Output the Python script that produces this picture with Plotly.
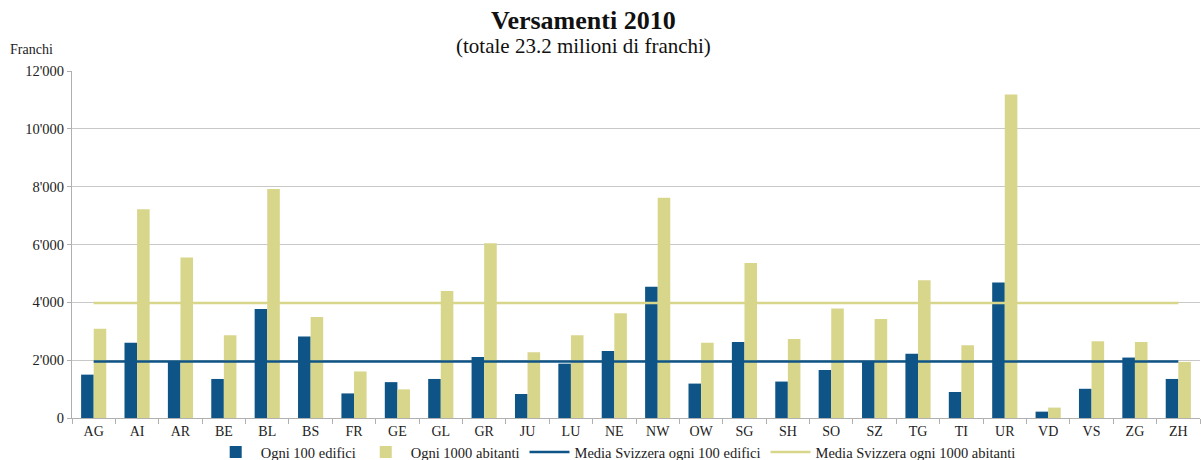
import plotly.graph_objects as go

cantoni = ["AG", "AI", "AR", "BE", "BL", "BS", "FR", "GE", "GL", "GR", "JU", "LU", "NE",
           "NW", "OW", "SG", "SH", "SO", "SZ", "TG", "TI", "UR", "VD", "VS", "ZG", "ZH"]
ogni_100_edifici = [1500, 2600, 1970, 1350, 3770, 2820, 850, 1240, 1350, 2110, 830, 1880, 2320,
                    4540, 1190, 2630, 1260, 1660, 1970, 2220, 900, 4690, 220, 1010, 2090, 1350]
ogni_1000_abitanti = [3090, 7220, 5550, 2860, 7920, 3490, 1610, 990, 4390, 6040, 2270, 2860, 3620,
                      7620, 2600, 5360, 2730, 3790, 3420, 4760, 2520, 11190, 360, 2650, 2630, 1940]
media_100_edifici = 1950
media_1000_abitanti = 3980

y_tickvals = [0, 2000, 4000, 6000, 8000, 10000, 12000]
y_ticktext = ["0", "2'000", "4'000", "6'000", "8'000", "10'000", "12'000"]

BLUE = "#0f5486"
YELLOW = "#d8d68b"
FONT = "Liberation Serif"
TXT = "#222222"

fig = go.Figure()
fig.add_trace(go.Bar(x=cantoni, y=ogni_100_edifici, name="Ogni 100 edifici",
                     marker=dict(color=BLUE, line=dict(width=0))))
fig.add_trace(go.Bar(x=cantoni, y=ogni_1000_abitanti, name="Ogni 1000 abitanti",
                     marker=dict(color=YELLOW, line=dict(width=0))))
fig.add_trace(go.Scatter(x=cantoni, y=[media_100_edifici] * len(cantoni), mode="lines",
                         name="Media Svizzera ogni 100 edifici",
                         line=dict(color=BLUE, width=2.5)))
fig.add_trace(go.Scatter(x=cantoni, y=[media_1000_abitanti] * len(cantoni), mode="lines",
                         name="Media Svizzera ogni 1000 abitanti",
                         line=dict(color=YELLOW, width=2.5)))

fig.update_layout(
    width=1201, height=460,
    margin=dict(l=72, r=1, t=71, b=42, autoexpand=False),
    paper_bgcolor="white", plot_bgcolor="white",
    font=dict(family=FONT, size=14, color=TXT),
    barmode="group", bargap=0.42, bargroupgap=0,
    showlegend=True,
    legend=dict(orientation="h", x=0.482, xanchor="center", y=-0.098, yanchor="middle",
                font=dict(size=14.5, color=TXT), itemwidth=40, traceorder="normal",
                bgcolor="rgba(0,0,0,0)"),
    xaxis=dict(type="category", showgrid=False, showline=True, linecolor="#b0b0b0",
               linewidth=1, ticks="outside", tickson="boundaries", ticklen=5,
               tickcolor="#b0b0b0", tickfont=dict(size=14, color=TXT)),
    yaxis=dict(range=[0, 12000], tickvals=y_tickvals, ticktext=y_ticktext,
               showgrid=True, gridcolor="#c8c8c8", gridwidth=1, zeroline=False,
               showline=True, linecolor="#b0b0b0", linewidth=1,
               ticks="outside", ticklen=4, tickcolor="#b0b0b0",
               tickfont=dict(size=14.5, color=TXT)),
    annotations=[
        dict(text="<b>Versamenti 2010</b>", x=583, y=20, xref="paper", yref="paper",
             showarrow=False, font=dict(size=26, color="#111111", family=FONT)),
        dict(text="(totale 23.2 milioni di franchi)", x=583, y=46, showarrow=False,
             font=dict(size=21, color="#111111", family=FONT)),
        dict(text="Franchi", x=8, y=49, showarrow=False, xanchor="left",
             font=dict(size=14, color=TXT, family=FONT)),
    ],
)

# convert pixel-positioned annotations to paper coordinates
pw, ph = 1201 - 72 - 1, 460 - 71 - 42
anns = []
for a in fig.layout.annotations:
    a = a.to_plotly_json()
    px, py = a["x"], a["y"]
    a["xref"] = "paper"; a["yref"] = "paper"
    a["x"] = (px - 72) / pw
    a["y"] = 1 + (71 - py) / ph
    a["yanchor"] = "middle"
    anns.append(a)
fig.layout.annotations = anns

fig.write_html("out.html")
